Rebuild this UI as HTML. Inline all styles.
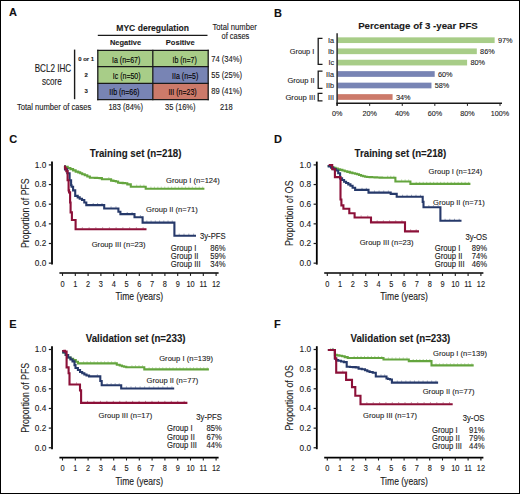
<!DOCTYPE html>
<html><head><meta charset="utf-8"><style>
html,body{margin:0;padding:0;background:#fff;}
body{width:520px;height:494px;overflow:hidden;position:relative;}
svg{position:absolute;left:0;top:0;}
text{font-family:"Liberation Sans", sans-serif;}
.frame{position:absolute;left:0;top:0;width:518px;height:492px;border:1px solid #000;}
</style></head><body>
<svg width="520" height="494" viewBox="0 0 520 494">
<rect x="0" y="0" width="520" height="494" fill="#fff"/>
<text x="9.00" y="16.34" font-size="11" font-weight="bold" text-anchor="start" fill="#111" stroke="#111" stroke-width="0.1">A</text>
<text x="116.30" y="30.66" font-size="8.56" font-weight="bold" text-anchor="start" fill="#1a1a1a" stroke="#1a1a1a" stroke-width="0.1">MYC deregulation</text>
<line x1="97.80" y1="35.40" x2="207.50" y2="35.40" stroke="#1a1a1a" stroke-width="1.2"/>
<text x="125.50" y="45.27" font-size="7.46" font-weight="bold" text-anchor="middle" fill="#1a1a1a" stroke="#1a1a1a" stroke-width="0.1">Negative</text>
<text x="180.30" y="45.30" font-size="7.54" font-weight="bold" text-anchor="middle" fill="#1a1a1a" stroke="#1a1a1a" stroke-width="0.1">Positive</text>
<text transform="translate(234.60,0) scale(0.9,1)" x="0" y="29.65" font-size="8.53" text-anchor="middle" fill="#1a1a1a" stroke="#1a1a1a" stroke-width="0.111">Total number</text>
<text transform="translate(235.40,0) scale(0.9,1)" x="0" y="38.68" font-size="8.32" text-anchor="middle" fill="#1a1a1a" stroke="#1a1a1a" stroke-width="0.111">of cases</text>
<rect x="97.80" y="50.40" width="55.00" height="16.30" fill="#a8cd88"/>
<rect x="152.80" y="50.40" width="55.40" height="16.30" fill="#a8cd88"/>
<rect x="97.80" y="66.70" width="55.00" height="16.60" fill="#a8cd88"/>
<rect x="152.80" y="66.70" width="55.40" height="16.60" fill="#7884b4"/>
<rect x="97.80" y="83.30" width="55.00" height="16.30" fill="#7884b4"/>
<rect x="152.80" y="83.30" width="55.40" height="16.30" fill="#cc7a6a"/>
<line x1="97.20" y1="50.40" x2="208.80" y2="50.40" stroke="#1a1a1a" stroke-width="1.3"/>
<line x1="97.20" y1="66.70" x2="208.80" y2="66.70" stroke="#1a1a1a" stroke-width="1.3"/>
<line x1="97.20" y1="83.30" x2="208.80" y2="83.30" stroke="#1a1a1a" stroke-width="1.3"/>
<line x1="97.20" y1="99.60" x2="208.80" y2="99.60" stroke="#1a1a1a" stroke-width="1.3"/>
<line x1="97.80" y1="49.80" x2="97.80" y2="100.20" stroke="#1a1a1a" stroke-width="1.3"/>
<line x1="152.80" y1="49.80" x2="152.80" y2="100.20" stroke="#1a1a1a" stroke-width="1.3"/>
<line x1="208.20" y1="49.80" x2="208.20" y2="100.20" stroke="#1a1a1a" stroke-width="1.3"/>
<text transform="translate(126.15,0) scale(0.82,1)" x="0" y="62.51" font-size="8.54" text-anchor="middle" fill="#000" stroke="#000" stroke-width="0.122">Ia (n=67)</text>
<text transform="translate(184.60,0) scale(0.82,1)" x="0" y="62.51" font-size="8.54" text-anchor="middle" fill="#000" stroke="#000" stroke-width="0.122">Ib (n=7)</text>
<text transform="translate(126.70,0) scale(0.82,1)" x="0" y="78.96" font-size="8.54" text-anchor="middle" fill="#000" stroke="#000" stroke-width="0.122">Ic (n=50)</text>
<text transform="translate(185.20,0) scale(0.82,1)" x="0" y="78.96" font-size="8.54" text-anchor="middle" fill="#000" stroke="#000" stroke-width="0.122">IIa (n=5)</text>
<text transform="translate(124.35,0) scale(0.82,1)" x="0" y="95.41" font-size="8.54" text-anchor="middle" fill="#000" stroke="#000" stroke-width="0.122">IIb (n=66)</text>
<text transform="translate(182.50,0) scale(0.82,1)" x="0" y="95.41" font-size="8.54" text-anchor="middle" fill="#000" stroke="#000" stroke-width="0.122">III (n=23)</text>
<text transform="translate(211.30,0) scale(0.9,1)" x="0" y="61.61" font-size="8.41" text-anchor="start" fill="#1a1a1a" stroke="#1a1a1a" stroke-width="0.111">74 (34%)</text>
<text transform="translate(211.30,0) scale(0.9,1)" x="0" y="77.51" font-size="8.41" text-anchor="start" fill="#1a1a1a" stroke="#1a1a1a" stroke-width="0.111">55 (25%)</text>
<text transform="translate(211.30,0) scale(0.9,1)" x="0" y="94.01" font-size="8.41" text-anchor="start" fill="#1a1a1a" stroke="#1a1a1a" stroke-width="0.111">89 (41%)</text>
<text transform="translate(16.90,0) scale(0.9,1)" x="0" y="109.63" font-size="8.46" text-anchor="start" fill="#1a1a1a" stroke="#1a1a1a" stroke-width="0.111">Total number of cases</text>
<text transform="translate(125.70,0) scale(0.9,1)" x="0" y="109.59" font-size="8.36" text-anchor="middle" fill="#1a1a1a" stroke="#1a1a1a" stroke-width="0.111">183 (84%)</text>
<text transform="translate(180.30,0) scale(0.9,1)" x="0" y="109.69" font-size="8.36" text-anchor="middle" fill="#1a1a1a" stroke="#1a1a1a" stroke-width="0.111">35 (16%)</text>
<text transform="translate(226.30,0) scale(0.9,1)" x="0" y="109.69" font-size="8.36" text-anchor="middle" fill="#1a1a1a" stroke="#1a1a1a" stroke-width="0.111">218</text>
<line x1="74.60" y1="49.60" x2="74.60" y2="99.20" stroke="#1a1a1a" stroke-width="1.4"/>
<text x="86.20" y="60.65" font-size="6.0" font-weight="bold" text-anchor="middle" fill="#1a1a1a" stroke="#1a1a1a" stroke-width="0.1">0 or 1</text>
<text x="86.20" y="77.45" font-size="6.0" font-weight="bold" text-anchor="middle" fill="#1a1a1a" stroke="#1a1a1a" stroke-width="0.1">2</text>
<text x="86.20" y="93.35" font-size="6.0" font-weight="bold" text-anchor="middle" fill="#1a1a1a" stroke="#1a1a1a" stroke-width="0.1">3</text>
<text transform="translate(52.95,0) scale(0.786,1)" x="0" y="71.69" font-size="10.31" text-anchor="middle" fill="#1a1a1a" stroke="#1a1a1a" stroke-width="0.127">BCL2 IHC</text>
<text transform="translate(51.90,0) scale(0.786,1)" x="0" y="84.69" font-size="10.31" text-anchor="middle" fill="#1a1a1a" stroke="#1a1a1a" stroke-width="0.127">score</text>
<text x="274.00" y="16.54" font-size="11" font-weight="bold" text-anchor="start" fill="#111" stroke="#111" stroke-width="0.1">B</text>
<text x="418.00" y="28.88" font-size="9.71" font-weight="bold" text-anchor="middle" fill="#1a1a1a" stroke="#1a1a1a" stroke-width="0.1">Percentage of 3 -year PFS</text>
<rect x="337.50" y="37.35" width="157.14" height="5.70" fill="#a8cd88"/>
<text x="334.10" y="42.81" font-size="7.3" text-anchor="end" fill="#1a1a1a" stroke="#1a1a1a" stroke-width="0.1">Ia</text>
<text x="497.94" y="42.81" font-size="7.3" text-anchor="start" fill="#1a1a1a" stroke="#1a1a1a" stroke-width="0.1">97%</text>
<rect x="337.50" y="48.45" width="139.32" height="5.70" fill="#a8cd88"/>
<text x="334.10" y="53.91" font-size="7.3" text-anchor="end" fill="#1a1a1a" stroke="#1a1a1a" stroke-width="0.1">Ib</text>
<text x="480.12" y="53.91" font-size="7.3" text-anchor="start" fill="#1a1a1a" stroke="#1a1a1a" stroke-width="0.1">86%</text>
<rect x="337.50" y="59.75" width="129.60" height="5.70" fill="#a8cd88"/>
<text x="334.10" y="65.21" font-size="7.3" text-anchor="end" fill="#1a1a1a" stroke="#1a1a1a" stroke-width="0.1">Ic</text>
<text x="470.40" y="65.21" font-size="7.3" text-anchor="start" fill="#1a1a1a" stroke="#1a1a1a" stroke-width="0.1">80%</text>
<rect x="337.50" y="71.15" width="97.20" height="5.70" fill="#7884b4"/>
<text x="334.10" y="76.61" font-size="7.3" text-anchor="end" fill="#1a1a1a" stroke="#1a1a1a" stroke-width="0.1">IIa</text>
<text x="438.00" y="76.61" font-size="7.3" text-anchor="start" fill="#1a1a1a" stroke="#1a1a1a" stroke-width="0.1">60%</text>
<rect x="337.50" y="82.65" width="93.96" height="5.70" fill="#7884b4"/>
<text x="334.10" y="88.11" font-size="7.3" text-anchor="end" fill="#1a1a1a" stroke="#1a1a1a" stroke-width="0.1">IIb</text>
<text x="434.76" y="88.11" font-size="7.3" text-anchor="start" fill="#1a1a1a" stroke="#1a1a1a" stroke-width="0.1">58%</text>
<rect x="337.50" y="94.15" width="55.08" height="5.70" fill="#cc7a6a"/>
<text x="334.10" y="99.61" font-size="7.3" text-anchor="end" fill="#1a1a1a" stroke="#1a1a1a" stroke-width="0.1">III</text>
<text x="395.88" y="99.61" font-size="7.3" text-anchor="start" fill="#1a1a1a" stroke="#1a1a1a" stroke-width="0.1">34%</text>
<line x1="337.10" y1="33.30" x2="337.10" y2="105.80" stroke="#1a1a1a" stroke-width="1.4"/>
<line x1="336.40" y1="103.30" x2="502.00" y2="103.30" stroke="#1a1a1a" stroke-width="1.4"/>
<line x1="337.10" y1="103.30" x2="337.10" y2="105.90" stroke="#1a1a1a" stroke-width="1.0"/>
<text x="337.10" y="115.88" font-size="7.2" text-anchor="middle" fill="#1a1a1a" stroke="#1a1a1a" stroke-width="0.1">0%</text>
<line x1="369.68" y1="103.30" x2="369.68" y2="105.90" stroke="#1a1a1a" stroke-width="1.0"/>
<text x="369.68" y="115.88" font-size="7.2" text-anchor="middle" fill="#1a1a1a" stroke="#1a1a1a" stroke-width="0.1">20%</text>
<line x1="402.26" y1="103.30" x2="402.26" y2="105.90" stroke="#1a1a1a" stroke-width="1.0"/>
<text x="402.26" y="115.88" font-size="7.2" text-anchor="middle" fill="#1a1a1a" stroke="#1a1a1a" stroke-width="0.1">40%</text>
<line x1="434.84" y1="103.30" x2="434.84" y2="105.90" stroke="#1a1a1a" stroke-width="1.0"/>
<text x="434.84" y="115.88" font-size="7.2" text-anchor="middle" fill="#1a1a1a" stroke="#1a1a1a" stroke-width="0.1">60%</text>
<line x1="467.42" y1="103.30" x2="467.42" y2="105.90" stroke="#1a1a1a" stroke-width="1.0"/>
<text x="467.42" y="115.88" font-size="7.2" text-anchor="middle" fill="#1a1a1a" stroke="#1a1a1a" stroke-width="0.1">80%</text>
<line x1="500.00" y1="103.30" x2="500.00" y2="105.90" stroke="#1a1a1a" stroke-width="1.0"/>
<text x="500.00" y="115.88" font-size="7.2" text-anchor="middle" fill="#1a1a1a" stroke="#1a1a1a" stroke-width="0.1">100%</text>
<path d="M322.5,38.30 L318.2,38.30 L318.2,64.40 L322.5,64.40" fill="none" stroke="#1a1a1a" stroke-width="1.3"/>
<path d="M322.5,71.20 L318.2,71.20 L318.2,88.40 L322.5,88.40" fill="none" stroke="#1a1a1a" stroke-width="1.3"/>
<path d="M322.5,93.30 L318.2,93.30 L318.2,100.90 L322.5,100.90" fill="none" stroke="#1a1a1a" stroke-width="1.3"/>
<text x="314.30" y="54.14" font-size="7.38" text-anchor="end" fill="#1a1a1a" stroke="#1a1a1a" stroke-width="0.1">Group I</text>
<text x="314.60" y="82.59" font-size="7.5" text-anchor="end" fill="#1a1a1a" stroke="#1a1a1a" stroke-width="0.1">Group II</text>
<text x="315.30" y="99.95" font-size="7.69" text-anchor="end" fill="#1a1a1a" stroke="#1a1a1a" stroke-width="0.1">Group III</text>
<text x="9.30" y="143.14" font-size="11" font-weight="bold" text-anchor="start" fill="#111" stroke="#111" stroke-width="0.1">C</text>
<text transform="translate(135.60,0) scale(0.92,1)" x="0" y="157.19" font-size="10.60" font-weight="bold" text-anchor="middle" fill="#1a1a1a" stroke="#1a1a1a" stroke-width="0.109">Training set (n=218)</text>
<line x1="52.00" y1="161.60" x2="52.00" y2="264.60" stroke="#000" stroke-width="1.8"/>
<line x1="48.80" y1="164.90" x2="52.00" y2="164.90" stroke="#1a1a1a" stroke-width="1.2"/>
<text transform="translate(46.30,0) scale(0.92,1)" x="0" y="167.73" font-size="9.02" text-anchor="end" fill="#1a1a1a" stroke="#1a1a1a" stroke-width="0.109">1.0</text>
<line x1="48.80" y1="184.55" x2="52.00" y2="184.55" stroke="#1a1a1a" stroke-width="1.2"/>
<text transform="translate(46.30,0) scale(0.92,1)" x="0" y="187.38" font-size="9.02" text-anchor="end" fill="#1a1a1a" stroke="#1a1a1a" stroke-width="0.109">0.8</text>
<line x1="48.80" y1="204.20" x2="52.00" y2="204.20" stroke="#1a1a1a" stroke-width="1.2"/>
<text transform="translate(46.30,0) scale(0.92,1)" x="0" y="207.03" font-size="9.02" text-anchor="end" fill="#1a1a1a" stroke="#1a1a1a" stroke-width="0.109">0.6</text>
<line x1="48.80" y1="223.85" x2="52.00" y2="223.85" stroke="#1a1a1a" stroke-width="1.2"/>
<text transform="translate(46.30,0) scale(0.92,1)" x="0" y="226.68" font-size="9.02" text-anchor="end" fill="#1a1a1a" stroke="#1a1a1a" stroke-width="0.109">0.4</text>
<line x1="48.80" y1="243.50" x2="52.00" y2="243.50" stroke="#1a1a1a" stroke-width="1.2"/>
<text transform="translate(46.30,0) scale(0.92,1)" x="0" y="246.33" font-size="9.02" text-anchor="end" fill="#1a1a1a" stroke="#1a1a1a" stroke-width="0.109">0.2</text>
<line x1="48.80" y1="263.15" x2="52.00" y2="263.15" stroke="#1a1a1a" stroke-width="1.2"/>
<text transform="translate(46.30,0) scale(0.92,1)" x="0" y="265.98" font-size="9.02" text-anchor="end" fill="#1a1a1a" stroke="#1a1a1a" stroke-width="0.109">0.0</text>
<text transform="translate(28.50,213.20) rotate(-90) scale(0.88,1)" font-size="10" text-anchor="middle" fill="#1a1a1a" stroke="#1a1a1a" stroke-width="0.1">Proportion of PFS</text>
<line x1="59.40" y1="273.00" x2="218.60" y2="273.00" stroke="#000" stroke-width="1.7"/>
<line x1="62.50" y1="273.00" x2="62.50" y2="275.90" stroke="#1a1a1a" stroke-width="1.1"/>
<text transform="translate(62.50,0) scale(0.86,1)" x="0" y="286.78" font-size="8.60" text-anchor="middle" fill="#1a1a1a" stroke="#1a1a1a" stroke-width="0.116">0</text>
<line x1="75.30" y1="273.00" x2="75.30" y2="275.90" stroke="#1a1a1a" stroke-width="1.1"/>
<text transform="translate(75.30,0) scale(0.86,1)" x="0" y="286.78" font-size="8.60" text-anchor="middle" fill="#1a1a1a" stroke="#1a1a1a" stroke-width="0.116">1</text>
<line x1="88.10" y1="273.00" x2="88.10" y2="275.90" stroke="#1a1a1a" stroke-width="1.1"/>
<text transform="translate(88.10,0) scale(0.86,1)" x="0" y="286.78" font-size="8.60" text-anchor="middle" fill="#1a1a1a" stroke="#1a1a1a" stroke-width="0.116">2</text>
<line x1="100.90" y1="273.00" x2="100.90" y2="275.90" stroke="#1a1a1a" stroke-width="1.1"/>
<text transform="translate(100.90,0) scale(0.86,1)" x="0" y="286.78" font-size="8.60" text-anchor="middle" fill="#1a1a1a" stroke="#1a1a1a" stroke-width="0.116">3</text>
<line x1="113.70" y1="273.00" x2="113.70" y2="275.90" stroke="#1a1a1a" stroke-width="1.1"/>
<text transform="translate(113.70,0) scale(0.86,1)" x="0" y="286.78" font-size="8.60" text-anchor="middle" fill="#1a1a1a" stroke="#1a1a1a" stroke-width="0.116">4</text>
<line x1="126.50" y1="273.00" x2="126.50" y2="275.90" stroke="#1a1a1a" stroke-width="1.1"/>
<text transform="translate(126.50,0) scale(0.86,1)" x="0" y="286.78" font-size="8.60" text-anchor="middle" fill="#1a1a1a" stroke="#1a1a1a" stroke-width="0.116">5</text>
<line x1="139.30" y1="273.00" x2="139.30" y2="275.90" stroke="#1a1a1a" stroke-width="1.1"/>
<text transform="translate(139.30,0) scale(0.86,1)" x="0" y="286.78" font-size="8.60" text-anchor="middle" fill="#1a1a1a" stroke="#1a1a1a" stroke-width="0.116">6</text>
<line x1="152.10" y1="273.00" x2="152.10" y2="275.90" stroke="#1a1a1a" stroke-width="1.1"/>
<text transform="translate(152.10,0) scale(0.86,1)" x="0" y="286.78" font-size="8.60" text-anchor="middle" fill="#1a1a1a" stroke="#1a1a1a" stroke-width="0.116">7</text>
<line x1="164.90" y1="273.00" x2="164.90" y2="275.90" stroke="#1a1a1a" stroke-width="1.1"/>
<text transform="translate(164.90,0) scale(0.86,1)" x="0" y="286.78" font-size="8.60" text-anchor="middle" fill="#1a1a1a" stroke="#1a1a1a" stroke-width="0.116">8</text>
<line x1="177.70" y1="273.00" x2="177.70" y2="275.90" stroke="#1a1a1a" stroke-width="1.1"/>
<text transform="translate(177.70,0) scale(0.86,1)" x="0" y="286.78" font-size="8.60" text-anchor="middle" fill="#1a1a1a" stroke="#1a1a1a" stroke-width="0.116">9</text>
<line x1="190.50" y1="273.00" x2="190.50" y2="275.90" stroke="#1a1a1a" stroke-width="1.1"/>
<text transform="translate(190.50,0) scale(0.86,1)" x="0" y="286.78" font-size="8.60" text-anchor="middle" fill="#1a1a1a" stroke="#1a1a1a" stroke-width="0.116">10</text>
<line x1="203.30" y1="273.00" x2="203.30" y2="275.90" stroke="#1a1a1a" stroke-width="1.1"/>
<text transform="translate(203.30,0) scale(0.86,1)" x="0" y="286.78" font-size="8.60" text-anchor="middle" fill="#1a1a1a" stroke="#1a1a1a" stroke-width="0.116">11</text>
<line x1="216.10" y1="273.00" x2="216.10" y2="275.90" stroke="#1a1a1a" stroke-width="1.1"/>
<text transform="translate(216.10,0) scale(0.86,1)" x="0" y="286.78" font-size="8.60" text-anchor="middle" fill="#1a1a1a" stroke="#1a1a1a" stroke-width="0.116">12</text>
<text transform="translate(139.25,0) scale(0.84,1)" x="0" y="300.25" font-size="10.19" text-anchor="middle" fill="#1a1a1a" stroke="#1a1a1a" stroke-width="0.119">Time (years)</text>
<text transform="translate(166.00,0) scale(0.94,1)" x="0" y="182.89" font-size="8.09" text-anchor="start" fill="#1a1a1a" stroke="#1a1a1a" stroke-width="0.106">Group I (n=124)</text>
<text transform="translate(146.00,0) scale(0.94,1)" x="0" y="212.29" font-size="8.09" text-anchor="start" fill="#1a1a1a" stroke="#1a1a1a" stroke-width="0.106">Group II (n=71)</text>
<text transform="translate(91.70,0) scale(0.94,1)" x="0" y="246.89" font-size="8.09" text-anchor="start" fill="#1a1a1a" stroke="#1a1a1a" stroke-width="0.106">Group III (n=23)</text>
<text transform="translate(225.60,0) scale(0.94,1)" x="0" y="239.43" font-size="8.19" text-anchor="end" fill="#1a1a1a" stroke="#1a1a1a" stroke-width="0.106">3y-PFS</text>
<text transform="translate(170.70,0) scale(0.94,1)" x="0" y="250.83" font-size="8.19" text-anchor="start" fill="#1a1a1a" stroke="#1a1a1a" stroke-width="0.106">Group I</text>
<text transform="translate(225.60,0) scale(0.94,1)" x="0" y="250.83" font-size="8.19" text-anchor="end" fill="#1a1a1a" stroke="#1a1a1a" stroke-width="0.106">86%</text>
<text transform="translate(170.70,0) scale(0.94,1)" x="0" y="259.43" font-size="8.19" text-anchor="start" fill="#1a1a1a" stroke="#1a1a1a" stroke-width="0.106">Group II</text>
<text transform="translate(225.60,0) scale(0.94,1)" x="0" y="259.43" font-size="8.19" text-anchor="end" fill="#1a1a1a" stroke="#1a1a1a" stroke-width="0.106">59%</text>
<text transform="translate(170.70,0) scale(0.94,1)" x="0" y="267.23" font-size="8.19" text-anchor="start" fill="#1a1a1a" stroke="#1a1a1a" stroke-width="0.106">Group III</text>
<text transform="translate(225.60,0) scale(0.94,1)" x="0" y="267.23" font-size="8.19" text-anchor="end" fill="#1a1a1a" stroke="#1a1a1a" stroke-width="0.106">34%</text>
<path d="M65.00,165.60 L65.00,166.77 L67.70,166.77 L67.70,167.93 L70.40,167.93 L70.40,169.10 L73.10,169.10 L73.10,170.35 L75.65,170.35 L75.65,171.60 L78.20,171.60 L78.20,172.40 L80.20,172.40 L80.20,173.20 L82.20,173.20 L82.20,174.20 L84.75,174.20 L84.75,175.20 L87.30,175.20 L87.30,176.45 L89.85,176.45 L89.85,177.70 L92.40,177.70 L92.40,177.80 L94.78,177.80 L94.78,177.90 L97.15,177.90 L97.15,178.00 L99.53,178.00 L99.53,178.10 L101.90,178.10 L101.90,179.20 L104.20,179.20 L111.10,179.20 L111.10,180.60 L113.50,180.60 L113.50,181.05 L115.80,181.05 L115.80,181.50 L118.10,181.50 L118.10,182.70 L120.40,182.70 L120.40,182.90 L122.70,182.90 L122.70,183.10 L125.00,183.10 L125.00,183.30 L127.30,183.30 L127.30,184.40 L130.80,184.40 L130.80,186.70 L133.10,186.70 L145.70,186.70 L145.70,188.70 L147.50,188.70 L204.40,188.70" fill="none" stroke="#64a53e" stroke-width="2.1" stroke-linejoin="miter" stroke-linecap="butt"/>
<path d="M108.80,178.35 V177.15 M136.70,185.85 V184.65 M140.30,185.85 V184.65 M143.90,185.85 V184.65 M150.95,187.85 V186.65 M154.40,187.85 V186.65 M157.85,187.85 V186.65 M161.29,187.85 V186.65 M164.74,187.85 V186.65 M168.19,187.85 V186.65 M171.64,187.85 V186.65 M175.09,187.85 V186.65 M178.54,187.85 V186.65 M181.98,187.85 V186.65 M185.43,187.85 V186.65 M188.88,187.85 V186.65 M192.33,187.85 V186.65 M195.78,187.85 V186.65 M199.23,187.85 V186.65 M202.68,187.85 V186.65" fill="none" stroke="#64a53e" stroke-width="0.8" opacity="0.6"/>
<path d="M65.00,165.60 L65.00,169.40 L67.30,169.40 L67.30,173.20 L69.60,173.20 L69.60,180.20 L71.10,180.20 L71.10,185.30 L71.60,185.30 L71.60,186.80 L73.10,186.80 L73.10,190.40 L75.20,190.40 L75.20,195.90 L77.70,195.90 L77.70,197.40 L79.70,197.40 L79.70,198.70 L82.00,198.70 L82.00,200.00 L84.30,200.00 L84.30,202.50 L86.30,202.50 L86.30,205.10 L88.80,205.10 L104.20,205.10 L104.20,208.50 L106.20,208.50 L118.40,208.50 L118.40,211.80 L120.40,211.80 L120.40,214.10 L122.40,214.10 L134.50,214.10 L134.50,217.20 L135.90,217.20 L142.60,217.20 L142.60,222.60 L174.40,222.60 L174.40,235.70 L196.00,235.70" fill="none" stroke="#26396a" stroke-width="2.1" stroke-linejoin="miter" stroke-linecap="butt"/>
<path d="M93.20,204.25 V203.05 M97.60,204.25 V203.05 M102.00,204.25 V203.05 M111.08,207.65 V206.45 M115.96,207.65 V206.45 M127.24,213.25 V212.05 M132.08,213.25 V212.05 M140.37,216.35 V215.15 M146.84,221.75 V220.55 M151.08,221.75 V220.55 M155.32,221.75 V220.55 M159.56,221.75 V220.55 M163.80,221.75 V220.55 M168.04,221.75 V220.55 M172.28,221.75 V220.55 M179.20,234.85 V233.65 M184.00,234.85 V233.65 M188.80,234.85 V233.65 M193.60,234.85 V233.65" fill="none" stroke="#26396a" stroke-width="0.8" opacity="0.6"/>
<path d="M65.00,165.60 L65.00,168.35 L66.30,168.35 L66.30,171.10 L67.60,171.10 L67.60,180.20 L68.60,180.20 L68.60,190.40 L69.10,190.40 L69.10,192.40 L70.10,192.40 L70.10,202.50 L70.60,202.50 L70.60,212.40 L71.90,212.40 L71.90,220.00 L73.40,220.00 L75.60,220.00 L75.60,229.30 L146.50,229.30" fill="none" stroke="#8c1038" stroke-width="2.1" stroke-linejoin="miter" stroke-linecap="butt"/>
<path d="M82.35,228.45 V227.25 M89.10,228.45 V227.25 M95.86,228.45 V227.25 M102.61,228.45 V227.25 M109.36,228.45 V227.25 M116.11,228.45 V227.25 M122.87,228.45 V227.25 M129.62,228.45 V227.25 M136.37,228.45 V227.25 M143.12,228.45 V227.25" fill="none" stroke="#8c1038" stroke-width="0.8" opacity="0.6"/>
<text x="274.10" y="143.14" font-size="11" font-weight="bold" text-anchor="start" fill="#111" stroke="#111" stroke-width="0.1">D</text>
<text transform="translate(400.40,0) scale(0.92,1)" x="0" y="157.19" font-size="10.60" font-weight="bold" text-anchor="middle" fill="#1a1a1a" stroke="#1a1a1a" stroke-width="0.109">Training set (n=218)</text>
<line x1="316.80" y1="161.60" x2="316.80" y2="264.60" stroke="#000" stroke-width="1.8"/>
<line x1="313.60" y1="164.90" x2="316.80" y2="164.90" stroke="#1a1a1a" stroke-width="1.2"/>
<text transform="translate(311.10,0) scale(0.92,1)" x="0" y="167.73" font-size="9.02" text-anchor="end" fill="#1a1a1a" stroke="#1a1a1a" stroke-width="0.109">1.0</text>
<line x1="313.60" y1="184.55" x2="316.80" y2="184.55" stroke="#1a1a1a" stroke-width="1.2"/>
<text transform="translate(311.10,0) scale(0.92,1)" x="0" y="187.38" font-size="9.02" text-anchor="end" fill="#1a1a1a" stroke="#1a1a1a" stroke-width="0.109">0.8</text>
<line x1="313.60" y1="204.20" x2="316.80" y2="204.20" stroke="#1a1a1a" stroke-width="1.2"/>
<text transform="translate(311.10,0) scale(0.92,1)" x="0" y="207.03" font-size="9.02" text-anchor="end" fill="#1a1a1a" stroke="#1a1a1a" stroke-width="0.109">0.6</text>
<line x1="313.60" y1="223.85" x2="316.80" y2="223.85" stroke="#1a1a1a" stroke-width="1.2"/>
<text transform="translate(311.10,0) scale(0.92,1)" x="0" y="226.68" font-size="9.02" text-anchor="end" fill="#1a1a1a" stroke="#1a1a1a" stroke-width="0.109">0.4</text>
<line x1="313.60" y1="243.50" x2="316.80" y2="243.50" stroke="#1a1a1a" stroke-width="1.2"/>
<text transform="translate(311.10,0) scale(0.92,1)" x="0" y="246.33" font-size="9.02" text-anchor="end" fill="#1a1a1a" stroke="#1a1a1a" stroke-width="0.109">0.2</text>
<line x1="313.60" y1="263.15" x2="316.80" y2="263.15" stroke="#1a1a1a" stroke-width="1.2"/>
<text transform="translate(311.10,0) scale(0.92,1)" x="0" y="265.98" font-size="9.02" text-anchor="end" fill="#1a1a1a" stroke="#1a1a1a" stroke-width="0.109">0.0</text>
<text transform="translate(293.30,213.20) rotate(-90) scale(0.88,1)" font-size="10" text-anchor="middle" fill="#1a1a1a" stroke="#1a1a1a" stroke-width="0.1">Proportion of OS</text>
<line x1="324.20" y1="273.00" x2="483.40" y2="273.00" stroke="#000" stroke-width="1.7"/>
<line x1="327.30" y1="273.00" x2="327.30" y2="275.90" stroke="#1a1a1a" stroke-width="1.1"/>
<text transform="translate(327.30,0) scale(0.86,1)" x="0" y="286.78" font-size="8.60" text-anchor="middle" fill="#1a1a1a" stroke="#1a1a1a" stroke-width="0.116">0</text>
<line x1="340.10" y1="273.00" x2="340.10" y2="275.90" stroke="#1a1a1a" stroke-width="1.1"/>
<text transform="translate(340.10,0) scale(0.86,1)" x="0" y="286.78" font-size="8.60" text-anchor="middle" fill="#1a1a1a" stroke="#1a1a1a" stroke-width="0.116">1</text>
<line x1="352.90" y1="273.00" x2="352.90" y2="275.90" stroke="#1a1a1a" stroke-width="1.1"/>
<text transform="translate(352.90,0) scale(0.86,1)" x="0" y="286.78" font-size="8.60" text-anchor="middle" fill="#1a1a1a" stroke="#1a1a1a" stroke-width="0.116">2</text>
<line x1="365.70" y1="273.00" x2="365.70" y2="275.90" stroke="#1a1a1a" stroke-width="1.1"/>
<text transform="translate(365.70,0) scale(0.86,1)" x="0" y="286.78" font-size="8.60" text-anchor="middle" fill="#1a1a1a" stroke="#1a1a1a" stroke-width="0.116">3</text>
<line x1="378.50" y1="273.00" x2="378.50" y2="275.90" stroke="#1a1a1a" stroke-width="1.1"/>
<text transform="translate(378.50,0) scale(0.86,1)" x="0" y="286.78" font-size="8.60" text-anchor="middle" fill="#1a1a1a" stroke="#1a1a1a" stroke-width="0.116">4</text>
<line x1="391.30" y1="273.00" x2="391.30" y2="275.90" stroke="#1a1a1a" stroke-width="1.1"/>
<text transform="translate(391.30,0) scale(0.86,1)" x="0" y="286.78" font-size="8.60" text-anchor="middle" fill="#1a1a1a" stroke="#1a1a1a" stroke-width="0.116">5</text>
<line x1="404.10" y1="273.00" x2="404.10" y2="275.90" stroke="#1a1a1a" stroke-width="1.1"/>
<text transform="translate(404.10,0) scale(0.86,1)" x="0" y="286.78" font-size="8.60" text-anchor="middle" fill="#1a1a1a" stroke="#1a1a1a" stroke-width="0.116">6</text>
<line x1="416.90" y1="273.00" x2="416.90" y2="275.90" stroke="#1a1a1a" stroke-width="1.1"/>
<text transform="translate(416.90,0) scale(0.86,1)" x="0" y="286.78" font-size="8.60" text-anchor="middle" fill="#1a1a1a" stroke="#1a1a1a" stroke-width="0.116">7</text>
<line x1="429.70" y1="273.00" x2="429.70" y2="275.90" stroke="#1a1a1a" stroke-width="1.1"/>
<text transform="translate(429.70,0) scale(0.86,1)" x="0" y="286.78" font-size="8.60" text-anchor="middle" fill="#1a1a1a" stroke="#1a1a1a" stroke-width="0.116">8</text>
<line x1="442.50" y1="273.00" x2="442.50" y2="275.90" stroke="#1a1a1a" stroke-width="1.1"/>
<text transform="translate(442.50,0) scale(0.86,1)" x="0" y="286.78" font-size="8.60" text-anchor="middle" fill="#1a1a1a" stroke="#1a1a1a" stroke-width="0.116">9</text>
<line x1="455.30" y1="273.00" x2="455.30" y2="275.90" stroke="#1a1a1a" stroke-width="1.1"/>
<text transform="translate(455.30,0) scale(0.86,1)" x="0" y="286.78" font-size="8.60" text-anchor="middle" fill="#1a1a1a" stroke="#1a1a1a" stroke-width="0.116">10</text>
<line x1="468.10" y1="273.00" x2="468.10" y2="275.90" stroke="#1a1a1a" stroke-width="1.1"/>
<text transform="translate(468.10,0) scale(0.86,1)" x="0" y="286.78" font-size="8.60" text-anchor="middle" fill="#1a1a1a" stroke="#1a1a1a" stroke-width="0.116">11</text>
<line x1="480.90" y1="273.00" x2="480.90" y2="275.90" stroke="#1a1a1a" stroke-width="1.1"/>
<text transform="translate(480.90,0) scale(0.86,1)" x="0" y="286.78" font-size="8.60" text-anchor="middle" fill="#1a1a1a" stroke="#1a1a1a" stroke-width="0.116">12</text>
<text transform="translate(404.05,0) scale(0.84,1)" x="0" y="300.25" font-size="10.19" text-anchor="middle" fill="#1a1a1a" stroke="#1a1a1a" stroke-width="0.119">Time (years)</text>
<text transform="translate(428.50,0) scale(0.94,1)" x="0" y="174.09" font-size="8.09" text-anchor="start" fill="#1a1a1a" stroke="#1a1a1a" stroke-width="0.106">Group I (n=124)</text>
<text transform="translate(433.00,0) scale(0.94,1)" x="0" y="205.19" font-size="8.09" text-anchor="start" fill="#1a1a1a" stroke="#1a1a1a" stroke-width="0.106">Group II (n=71)</text>
<text transform="translate(359.70,0) scale(0.94,1)" x="0" y="244.79" font-size="8.09" text-anchor="start" fill="#1a1a1a" stroke="#1a1a1a" stroke-width="0.106">Group III (n=23)</text>
<text transform="translate(487.20,0) scale(0.94,1)" x="0" y="239.63" font-size="8.19" text-anchor="end" fill="#1a1a1a" stroke="#1a1a1a" stroke-width="0.106">3y-OS</text>
<text transform="translate(434.70,0) scale(0.94,1)" x="0" y="250.73" font-size="8.19" text-anchor="start" fill="#1a1a1a" stroke="#1a1a1a" stroke-width="0.106">Group I</text>
<text transform="translate(487.20,0) scale(0.94,1)" x="0" y="250.73" font-size="8.19" text-anchor="end" fill="#1a1a1a" stroke="#1a1a1a" stroke-width="0.106">89%</text>
<text transform="translate(434.70,0) scale(0.94,1)" x="0" y="259.43" font-size="8.19" text-anchor="start" fill="#1a1a1a" stroke="#1a1a1a" stroke-width="0.106">Group II</text>
<text transform="translate(487.20,0) scale(0.94,1)" x="0" y="259.43" font-size="8.19" text-anchor="end" fill="#1a1a1a" stroke="#1a1a1a" stroke-width="0.106">74%</text>
<text transform="translate(434.70,0) scale(0.94,1)" x="0" y="267.03" font-size="8.19" text-anchor="start" fill="#1a1a1a" stroke="#1a1a1a" stroke-width="0.106">Group III</text>
<text transform="translate(487.20,0) scale(0.94,1)" x="0" y="267.03" font-size="8.19" text-anchor="end" fill="#1a1a1a" stroke="#1a1a1a" stroke-width="0.106">46%</text>
<path d="M328.70,165.00 L328.70,165.97 L330.97,165.97 L330.97,166.93 L333.23,166.93 L333.23,167.90 L335.50,167.90 L335.50,168.55 L337.80,168.55 L337.80,169.20 L340.10,169.20 L340.10,169.85 L342.40,169.85 L342.40,170.50 L344.70,170.50 L344.70,171.20 L347.27,171.20 L347.27,171.90 L349.85,171.90 L349.85,172.60 L352.43,172.60 L352.43,173.30 L355.00,173.30 L355.00,173.75 L357.00,173.75 L357.00,174.20 L359.00,174.20 L359.00,175.00 L361.05,175.00 L361.05,175.80 L363.10,175.80 L363.10,176.30 L365.10,176.30 L365.10,176.80 L367.10,176.80 L367.10,176.94 L369.60,176.94 L369.60,177.09 L372.10,177.09 L372.10,177.23 L374.60,177.23 L374.60,177.37 L377.10,177.37 L377.10,177.51 L379.60,177.51 L379.60,177.66 L382.10,177.66 L382.10,177.80 L384.60,177.80 L395.40,177.80 L395.40,181.50 L398.10,181.50 L410.40,181.50 L410.40,183.90 L412.70,183.90 L470.40,183.90" fill="none" stroke="#64a53e" stroke-width="2.1" stroke-linejoin="miter" stroke-linecap="butt"/>
<path d="M387.69,176.95 V175.75 M390.77,176.95 V175.75 M393.86,176.95 V175.75 M401.61,180.65 V179.45 M405.13,180.65 V179.45 M408.64,180.65 V179.45 M416.20,183.05 V181.85 M419.69,183.05 V181.85 M423.19,183.05 V181.85 M426.69,183.05 V181.85 M430.18,183.05 V181.85 M433.68,183.05 V181.85 M437.18,183.05 V181.85 M440.68,183.05 V181.85 M444.17,183.05 V181.85 M447.67,183.05 V181.85 M451.17,183.05 V181.85 M454.66,183.05 V181.85 M458.16,183.05 V181.85 M461.66,183.05 V181.85 M465.15,183.05 V181.85 M468.65,183.05 V181.85" fill="none" stroke="#64a53e" stroke-width="0.8" opacity="0.6"/>
<path d="M328.70,165.00 L328.70,166.38 L331.07,166.38 L331.07,167.75 L333.45,167.75 L333.45,169.12 L335.82,169.12 L335.82,170.50 L338.20,170.50 L338.20,173.20 L340.10,173.20 L340.10,178.40 L342.10,178.40 L342.10,180.05 L344.10,180.05 L344.10,181.70 L346.10,181.70 L346.10,183.03 L348.27,183.03 L348.27,184.37 L350.43,184.37 L350.43,185.70 L352.60,185.70 L352.60,187.80 L355.15,187.80 L355.15,189.90 L357.70,189.90 L368.50,189.90 L368.50,192.60 L369.80,192.60 L390.70,192.60 L390.70,193.90 L392.00,193.90 L396.70,193.90 L396.70,196.80 L398.10,196.80 L422.70,196.80 L422.70,201.90 L423.50,201.90 L423.50,207.30 L424.20,207.30 L440.40,207.30 L440.40,220.80 L461.50,220.80" fill="none" stroke="#26396a" stroke-width="2.1" stroke-linejoin="miter" stroke-linecap="butt"/>
<path d="M362.02,189.05 V187.85 M366.34,189.05 V187.85 M374.44,191.75 V190.55 M379.09,191.75 V190.55 M383.73,191.75 V190.55 M388.38,191.75 V190.55 M402.57,195.95 V194.75 M407.05,195.95 V194.75 M411.52,195.95 V194.75 M415.99,195.95 V194.75 M420.46,195.95 V194.75 M428.83,206.45 V205.25 M433.46,206.45 V205.25 M438.09,206.45 V205.25 M445.09,219.95 V218.75 M449.78,219.95 V218.75 M454.47,219.95 V218.75 M459.16,219.95 V218.75" fill="none" stroke="#26396a" stroke-width="0.8" opacity="0.6"/>
<path d="M328.70,165.00 L332.20,165.00 L332.20,169.20 L334.90,169.20 L334.90,177.10 L340.50,177.10 L340.50,199.50 L341.40,199.50 L341.40,205.40 L343.40,205.40 L343.40,208.70 L344.70,208.70 L349.30,208.70 L349.30,213.30 L354.60,213.30 L354.60,217.50 L371.00,217.50 L371.00,222.40 L405.00,222.40 L405.00,231.40 L419.00,231.40" fill="none" stroke="#8c1038" stroke-width="2.1" stroke-linejoin="miter" stroke-linecap="butt"/>
<path d="M361.16,216.65 V215.45 M367.72,216.65 V215.45 M377.18,221.55 V220.35 M383.36,221.55 V220.35 M389.55,221.55 V220.35 M395.73,221.55 V220.35 M401.91,221.55 V220.35 M410.60,230.55 V229.35 M416.20,230.55 V229.35" fill="none" stroke="#8c1038" stroke-width="0.8" opacity="0.6"/>
<text x="9.30" y="327.74" font-size="11" font-weight="bold" text-anchor="start" fill="#111" stroke="#111" stroke-width="0.1">E</text>
<text transform="translate(135.60,0) scale(0.92,1)" x="0" y="341.79" font-size="10.60" font-weight="bold" text-anchor="middle" fill="#1a1a1a" stroke="#1a1a1a" stroke-width="0.109">Validation set (n=233)</text>
<line x1="52.00" y1="346.20" x2="52.00" y2="449.20" stroke="#000" stroke-width="1.8"/>
<line x1="48.80" y1="349.50" x2="52.00" y2="349.50" stroke="#1a1a1a" stroke-width="1.2"/>
<text transform="translate(46.30,0) scale(0.92,1)" x="0" y="352.33" font-size="9.02" text-anchor="end" fill="#1a1a1a" stroke="#1a1a1a" stroke-width="0.109">1.0</text>
<line x1="48.80" y1="369.15" x2="52.00" y2="369.15" stroke="#1a1a1a" stroke-width="1.2"/>
<text transform="translate(46.30,0) scale(0.92,1)" x="0" y="371.98" font-size="9.02" text-anchor="end" fill="#1a1a1a" stroke="#1a1a1a" stroke-width="0.109">0.8</text>
<line x1="48.80" y1="388.80" x2="52.00" y2="388.80" stroke="#1a1a1a" stroke-width="1.2"/>
<text transform="translate(46.30,0) scale(0.92,1)" x="0" y="391.63" font-size="9.02" text-anchor="end" fill="#1a1a1a" stroke="#1a1a1a" stroke-width="0.109">0.6</text>
<line x1="48.80" y1="408.45" x2="52.00" y2="408.45" stroke="#1a1a1a" stroke-width="1.2"/>
<text transform="translate(46.30,0) scale(0.92,1)" x="0" y="411.28" font-size="9.02" text-anchor="end" fill="#1a1a1a" stroke="#1a1a1a" stroke-width="0.109">0.4</text>
<line x1="48.80" y1="428.10" x2="52.00" y2="428.10" stroke="#1a1a1a" stroke-width="1.2"/>
<text transform="translate(46.30,0) scale(0.92,1)" x="0" y="430.93" font-size="9.02" text-anchor="end" fill="#1a1a1a" stroke="#1a1a1a" stroke-width="0.109">0.2</text>
<line x1="48.80" y1="447.75" x2="52.00" y2="447.75" stroke="#1a1a1a" stroke-width="1.2"/>
<text transform="translate(46.30,0) scale(0.92,1)" x="0" y="450.58" font-size="9.02" text-anchor="end" fill="#1a1a1a" stroke="#1a1a1a" stroke-width="0.109">0.0</text>
<text transform="translate(28.50,397.80) rotate(-90) scale(0.88,1)" font-size="10" text-anchor="middle" fill="#1a1a1a" stroke="#1a1a1a" stroke-width="0.1">Proportion of PFS</text>
<line x1="59.40" y1="457.60" x2="218.60" y2="457.60" stroke="#000" stroke-width="1.7"/>
<line x1="62.50" y1="457.60" x2="62.50" y2="460.50" stroke="#1a1a1a" stroke-width="1.1"/>
<text transform="translate(62.50,0) scale(0.86,1)" x="0" y="471.38" font-size="8.60" text-anchor="middle" fill="#1a1a1a" stroke="#1a1a1a" stroke-width="0.116">0</text>
<line x1="75.30" y1="457.60" x2="75.30" y2="460.50" stroke="#1a1a1a" stroke-width="1.1"/>
<text transform="translate(75.30,0) scale(0.86,1)" x="0" y="471.38" font-size="8.60" text-anchor="middle" fill="#1a1a1a" stroke="#1a1a1a" stroke-width="0.116">1</text>
<line x1="88.10" y1="457.60" x2="88.10" y2="460.50" stroke="#1a1a1a" stroke-width="1.1"/>
<text transform="translate(88.10,0) scale(0.86,1)" x="0" y="471.38" font-size="8.60" text-anchor="middle" fill="#1a1a1a" stroke="#1a1a1a" stroke-width="0.116">2</text>
<line x1="100.90" y1="457.60" x2="100.90" y2="460.50" stroke="#1a1a1a" stroke-width="1.1"/>
<text transform="translate(100.90,0) scale(0.86,1)" x="0" y="471.38" font-size="8.60" text-anchor="middle" fill="#1a1a1a" stroke="#1a1a1a" stroke-width="0.116">3</text>
<line x1="113.70" y1="457.60" x2="113.70" y2="460.50" stroke="#1a1a1a" stroke-width="1.1"/>
<text transform="translate(113.70,0) scale(0.86,1)" x="0" y="471.38" font-size="8.60" text-anchor="middle" fill="#1a1a1a" stroke="#1a1a1a" stroke-width="0.116">4</text>
<line x1="126.50" y1="457.60" x2="126.50" y2="460.50" stroke="#1a1a1a" stroke-width="1.1"/>
<text transform="translate(126.50,0) scale(0.86,1)" x="0" y="471.38" font-size="8.60" text-anchor="middle" fill="#1a1a1a" stroke="#1a1a1a" stroke-width="0.116">5</text>
<line x1="139.30" y1="457.60" x2="139.30" y2="460.50" stroke="#1a1a1a" stroke-width="1.1"/>
<text transform="translate(139.30,0) scale(0.86,1)" x="0" y="471.38" font-size="8.60" text-anchor="middle" fill="#1a1a1a" stroke="#1a1a1a" stroke-width="0.116">6</text>
<line x1="152.10" y1="457.60" x2="152.10" y2="460.50" stroke="#1a1a1a" stroke-width="1.1"/>
<text transform="translate(152.10,0) scale(0.86,1)" x="0" y="471.38" font-size="8.60" text-anchor="middle" fill="#1a1a1a" stroke="#1a1a1a" stroke-width="0.116">7</text>
<line x1="164.90" y1="457.60" x2="164.90" y2="460.50" stroke="#1a1a1a" stroke-width="1.1"/>
<text transform="translate(164.90,0) scale(0.86,1)" x="0" y="471.38" font-size="8.60" text-anchor="middle" fill="#1a1a1a" stroke="#1a1a1a" stroke-width="0.116">8</text>
<line x1="177.70" y1="457.60" x2="177.70" y2="460.50" stroke="#1a1a1a" stroke-width="1.1"/>
<text transform="translate(177.70,0) scale(0.86,1)" x="0" y="471.38" font-size="8.60" text-anchor="middle" fill="#1a1a1a" stroke="#1a1a1a" stroke-width="0.116">9</text>
<line x1="190.50" y1="457.60" x2="190.50" y2="460.50" stroke="#1a1a1a" stroke-width="1.1"/>
<text transform="translate(190.50,0) scale(0.86,1)" x="0" y="471.38" font-size="8.60" text-anchor="middle" fill="#1a1a1a" stroke="#1a1a1a" stroke-width="0.116">10</text>
<line x1="203.30" y1="457.60" x2="203.30" y2="460.50" stroke="#1a1a1a" stroke-width="1.1"/>
<text transform="translate(203.30,0) scale(0.86,1)" x="0" y="471.38" font-size="8.60" text-anchor="middle" fill="#1a1a1a" stroke="#1a1a1a" stroke-width="0.116">11</text>
<line x1="216.10" y1="457.60" x2="216.10" y2="460.50" stroke="#1a1a1a" stroke-width="1.1"/>
<text transform="translate(216.10,0) scale(0.86,1)" x="0" y="471.38" font-size="8.60" text-anchor="middle" fill="#1a1a1a" stroke="#1a1a1a" stroke-width="0.116">12</text>
<text transform="translate(139.25,0) scale(0.84,1)" x="0" y="484.85" font-size="10.19" text-anchor="middle" fill="#1a1a1a" stroke="#1a1a1a" stroke-width="0.119">Time (years)</text>
<text transform="translate(159.20,0) scale(0.94,1)" x="0" y="361.19" font-size="8.09" text-anchor="start" fill="#1a1a1a" stroke="#1a1a1a" stroke-width="0.106">Group I (n=139)</text>
<text transform="translate(146.50,0) scale(0.94,1)" x="0" y="383.19" font-size="8.09" text-anchor="start" fill="#1a1a1a" stroke="#1a1a1a" stroke-width="0.106">Group II (n=77)</text>
<text transform="translate(98.50,0) scale(0.94,1)" x="0" y="418.09" font-size="8.09" text-anchor="start" fill="#1a1a1a" stroke="#1a1a1a" stroke-width="0.106">Group III (n=17)</text>
<text transform="translate(221.90,0) scale(0.94,1)" x="0" y="420.13" font-size="8.19" text-anchor="end" fill="#1a1a1a" stroke="#1a1a1a" stroke-width="0.106">3y-PFS</text>
<text transform="translate(167.00,0) scale(0.94,1)" x="0" y="431.33" font-size="8.19" text-anchor="start" fill="#1a1a1a" stroke="#1a1a1a" stroke-width="0.106">Group I</text>
<text transform="translate(221.90,0) scale(0.94,1)" x="0" y="431.33" font-size="8.19" text-anchor="end" fill="#1a1a1a" stroke="#1a1a1a" stroke-width="0.106">85%</text>
<text transform="translate(167.00,0) scale(0.94,1)" x="0" y="440.23" font-size="8.19" text-anchor="start" fill="#1a1a1a" stroke="#1a1a1a" stroke-width="0.106">Group II</text>
<text transform="translate(221.90,0) scale(0.94,1)" x="0" y="440.23" font-size="8.19" text-anchor="end" fill="#1a1a1a" stroke="#1a1a1a" stroke-width="0.106">67%</text>
<text transform="translate(167.00,0) scale(0.94,1)" x="0" y="447.63" font-size="8.19" text-anchor="start" fill="#1a1a1a" stroke="#1a1a1a" stroke-width="0.106">Group III</text>
<text transform="translate(221.90,0) scale(0.94,1)" x="0" y="447.63" font-size="8.19" text-anchor="end" fill="#1a1a1a" stroke="#1a1a1a" stroke-width="0.106">44%</text>
<path d="M63.30,350.00 L63.30,352.50 L65.70,352.50 L65.70,355.00 L68.10,355.00 L68.10,357.50 L70.50,357.50 L70.50,358.80 L73.15,358.80 L73.15,360.10 L75.80,360.10 L75.80,361.75 L77.95,361.75 L77.95,363.40 L80.10,363.40 L116.80,363.40 L116.80,364.80 L119.70,364.80 L119.70,365.55 L121.90,365.55 L121.90,366.30 L124.10,366.30 L124.10,366.80 L126.25,366.80 L126.25,367.30 L128.40,367.30 L144.30,367.30 L144.30,369.40 L145.70,369.40 L208.90,369.40" fill="none" stroke="#64a53e" stroke-width="2.1" stroke-linejoin="miter" stroke-linecap="butt"/>
<path d="M83.60,362.55 V361.35 M87.09,362.55 V361.35 M90.59,362.55 V361.35 M94.08,362.55 V361.35 M97.58,362.55 V361.35 M101.07,362.55 V361.35 M104.57,362.55 V361.35 M108.06,362.55 V361.35 M111.56,362.55 V361.35 M115.05,362.55 V361.35 M131.93,366.45 V365.25 M135.47,366.45 V365.25 M139.00,366.45 V365.25 M142.53,366.45 V365.25 M149.12,368.55 V367.35 M152.53,368.55 V367.35 M155.95,368.55 V367.35 M159.36,368.55 V367.35 M162.78,368.55 V367.35 M166.20,368.55 V367.35 M169.61,368.55 V367.35 M173.03,368.55 V367.35 M176.45,368.55 V367.35 M179.86,368.55 V367.35 M183.28,368.55 V367.35 M186.69,368.55 V367.35 M190.11,368.55 V367.35 M193.53,368.55 V367.35 M196.94,368.55 V367.35 M200.36,368.55 V367.35 M203.78,368.55 V367.35 M207.19,368.55 V367.35" fill="none" stroke="#64a53e" stroke-width="0.8" opacity="0.6"/>
<path d="M63.30,350.00 L63.30,352.50 L65.70,352.50 L65.70,355.00 L68.10,355.00 L68.10,357.50 L70.50,357.50 L70.50,359.45 L72.50,359.45 L72.50,361.40 L74.50,361.40 L74.50,365.10 L75.50,365.10 L75.50,368.00 L77.90,368.00 L77.90,370.00 L80.05,370.00 L80.05,372.00 L82.20,372.00 L82.20,373.25 L84.35,373.25 L84.35,374.50 L86.50,374.50 L86.50,375.45 L89.05,375.45 L89.05,376.40 L91.60,376.40 L100.30,376.40 L100.30,381.00 L101.70,381.00 L101.70,385.30 L103.10,385.30 L121.20,385.30 L121.20,388.50 L121.90,388.50 L174.20,388.50" fill="none" stroke="#26396a" stroke-width="2.1" stroke-linejoin="miter" stroke-linecap="butt"/>
<path d="M97.40,375.55 V374.35 M107.12,384.45 V383.25 M111.14,384.45 V383.25 M115.17,384.45 V383.25 M119.19,384.45 V383.25 M126.45,387.65 V386.45 M131.00,387.65 V386.45 M135.54,387.65 V386.45 M140.09,387.65 V386.45 M144.64,387.65 V386.45 M149.19,387.65 V386.45 M153.73,387.65 V386.45 M158.28,387.65 V386.45 M162.83,387.65 V386.45 M167.38,387.65 V386.45 M171.93,387.65 V386.45" fill="none" stroke="#26396a" stroke-width="0.8" opacity="0.6"/>
<path d="M63.30,350.00 L63.30,350.80 L64.95,350.80 L64.95,351.60 L66.60,351.60 L66.60,360.80 L66.60,367.40 L68.60,367.40 L68.60,373.30 L69.50,373.30 L69.50,384.50 L80.00,384.50 L80.00,390.40 L81.10,390.40 L81.10,402.90 L187.40,402.90" fill="none" stroke="#8c1038" stroke-width="2.1" stroke-linejoin="miter" stroke-linecap="butt"/>
<path d="M76.50,383.65 V382.45 M87.54,402.05 V400.85 M93.98,402.05 V400.85 M100.43,402.05 V400.85 M106.87,402.05 V400.85 M113.31,402.05 V400.85 M119.75,402.05 V400.85 M126.20,402.05 V400.85 M132.64,402.05 V400.85 M139.08,402.05 V400.85 M145.52,402.05 V400.85 M151.97,402.05 V400.85 M158.41,402.05 V400.85 M164.85,402.05 V400.85 M171.29,402.05 V400.85 M177.74,402.05 V400.85 M184.18,402.05 V400.85" fill="none" stroke="#8c1038" stroke-width="0.8" opacity="0.6"/>
<text x="274.10" y="327.74" font-size="11" font-weight="bold" text-anchor="start" fill="#111" stroke="#111" stroke-width="0.1">F</text>
<text transform="translate(400.40,0) scale(0.92,1)" x="0" y="341.79" font-size="10.60" font-weight="bold" text-anchor="middle" fill="#1a1a1a" stroke="#1a1a1a" stroke-width="0.109">Validation set (n=233)</text>
<line x1="316.80" y1="346.20" x2="316.80" y2="449.20" stroke="#000" stroke-width="1.8"/>
<line x1="313.60" y1="349.50" x2="316.80" y2="349.50" stroke="#1a1a1a" stroke-width="1.2"/>
<text transform="translate(311.10,0) scale(0.92,1)" x="0" y="352.33" font-size="9.02" text-anchor="end" fill="#1a1a1a" stroke="#1a1a1a" stroke-width="0.109">1.0</text>
<line x1="313.60" y1="369.15" x2="316.80" y2="369.15" stroke="#1a1a1a" stroke-width="1.2"/>
<text transform="translate(311.10,0) scale(0.92,1)" x="0" y="371.98" font-size="9.02" text-anchor="end" fill="#1a1a1a" stroke="#1a1a1a" stroke-width="0.109">0.8</text>
<line x1="313.60" y1="388.80" x2="316.80" y2="388.80" stroke="#1a1a1a" stroke-width="1.2"/>
<text transform="translate(311.10,0) scale(0.92,1)" x="0" y="391.63" font-size="9.02" text-anchor="end" fill="#1a1a1a" stroke="#1a1a1a" stroke-width="0.109">0.6</text>
<line x1="313.60" y1="408.45" x2="316.80" y2="408.45" stroke="#1a1a1a" stroke-width="1.2"/>
<text transform="translate(311.10,0) scale(0.92,1)" x="0" y="411.28" font-size="9.02" text-anchor="end" fill="#1a1a1a" stroke="#1a1a1a" stroke-width="0.109">0.4</text>
<line x1="313.60" y1="428.10" x2="316.80" y2="428.10" stroke="#1a1a1a" stroke-width="1.2"/>
<text transform="translate(311.10,0) scale(0.92,1)" x="0" y="430.93" font-size="9.02" text-anchor="end" fill="#1a1a1a" stroke="#1a1a1a" stroke-width="0.109">0.2</text>
<line x1="313.60" y1="447.75" x2="316.80" y2="447.75" stroke="#1a1a1a" stroke-width="1.2"/>
<text transform="translate(311.10,0) scale(0.92,1)" x="0" y="450.58" font-size="9.02" text-anchor="end" fill="#1a1a1a" stroke="#1a1a1a" stroke-width="0.109">0.0</text>
<text transform="translate(293.30,397.80) rotate(-90) scale(0.88,1)" font-size="10" text-anchor="middle" fill="#1a1a1a" stroke="#1a1a1a" stroke-width="0.1">Proportion of OS</text>
<line x1="324.20" y1="457.60" x2="483.40" y2="457.60" stroke="#000" stroke-width="1.7"/>
<line x1="327.30" y1="457.60" x2="327.30" y2="460.50" stroke="#1a1a1a" stroke-width="1.1"/>
<text transform="translate(327.30,0) scale(0.86,1)" x="0" y="471.38" font-size="8.60" text-anchor="middle" fill="#1a1a1a" stroke="#1a1a1a" stroke-width="0.116">0</text>
<line x1="340.10" y1="457.60" x2="340.10" y2="460.50" stroke="#1a1a1a" stroke-width="1.1"/>
<text transform="translate(340.10,0) scale(0.86,1)" x="0" y="471.38" font-size="8.60" text-anchor="middle" fill="#1a1a1a" stroke="#1a1a1a" stroke-width="0.116">1</text>
<line x1="352.90" y1="457.60" x2="352.90" y2="460.50" stroke="#1a1a1a" stroke-width="1.1"/>
<text transform="translate(352.90,0) scale(0.86,1)" x="0" y="471.38" font-size="8.60" text-anchor="middle" fill="#1a1a1a" stroke="#1a1a1a" stroke-width="0.116">2</text>
<line x1="365.70" y1="457.60" x2="365.70" y2="460.50" stroke="#1a1a1a" stroke-width="1.1"/>
<text transform="translate(365.70,0) scale(0.86,1)" x="0" y="471.38" font-size="8.60" text-anchor="middle" fill="#1a1a1a" stroke="#1a1a1a" stroke-width="0.116">3</text>
<line x1="378.50" y1="457.60" x2="378.50" y2="460.50" stroke="#1a1a1a" stroke-width="1.1"/>
<text transform="translate(378.50,0) scale(0.86,1)" x="0" y="471.38" font-size="8.60" text-anchor="middle" fill="#1a1a1a" stroke="#1a1a1a" stroke-width="0.116">4</text>
<line x1="391.30" y1="457.60" x2="391.30" y2="460.50" stroke="#1a1a1a" stroke-width="1.1"/>
<text transform="translate(391.30,0) scale(0.86,1)" x="0" y="471.38" font-size="8.60" text-anchor="middle" fill="#1a1a1a" stroke="#1a1a1a" stroke-width="0.116">5</text>
<line x1="404.10" y1="457.60" x2="404.10" y2="460.50" stroke="#1a1a1a" stroke-width="1.1"/>
<text transform="translate(404.10,0) scale(0.86,1)" x="0" y="471.38" font-size="8.60" text-anchor="middle" fill="#1a1a1a" stroke="#1a1a1a" stroke-width="0.116">6</text>
<line x1="416.90" y1="457.60" x2="416.90" y2="460.50" stroke="#1a1a1a" stroke-width="1.1"/>
<text transform="translate(416.90,0) scale(0.86,1)" x="0" y="471.38" font-size="8.60" text-anchor="middle" fill="#1a1a1a" stroke="#1a1a1a" stroke-width="0.116">7</text>
<line x1="429.70" y1="457.60" x2="429.70" y2="460.50" stroke="#1a1a1a" stroke-width="1.1"/>
<text transform="translate(429.70,0) scale(0.86,1)" x="0" y="471.38" font-size="8.60" text-anchor="middle" fill="#1a1a1a" stroke="#1a1a1a" stroke-width="0.116">8</text>
<line x1="442.50" y1="457.60" x2="442.50" y2="460.50" stroke="#1a1a1a" stroke-width="1.1"/>
<text transform="translate(442.50,0) scale(0.86,1)" x="0" y="471.38" font-size="8.60" text-anchor="middle" fill="#1a1a1a" stroke="#1a1a1a" stroke-width="0.116">9</text>
<line x1="455.30" y1="457.60" x2="455.30" y2="460.50" stroke="#1a1a1a" stroke-width="1.1"/>
<text transform="translate(455.30,0) scale(0.86,1)" x="0" y="471.38" font-size="8.60" text-anchor="middle" fill="#1a1a1a" stroke="#1a1a1a" stroke-width="0.116">10</text>
<line x1="468.10" y1="457.60" x2="468.10" y2="460.50" stroke="#1a1a1a" stroke-width="1.1"/>
<text transform="translate(468.10,0) scale(0.86,1)" x="0" y="471.38" font-size="8.60" text-anchor="middle" fill="#1a1a1a" stroke="#1a1a1a" stroke-width="0.116">11</text>
<line x1="480.90" y1="457.60" x2="480.90" y2="460.50" stroke="#1a1a1a" stroke-width="1.1"/>
<text transform="translate(480.90,0) scale(0.86,1)" x="0" y="471.38" font-size="8.60" text-anchor="middle" fill="#1a1a1a" stroke="#1a1a1a" stroke-width="0.116">12</text>
<text transform="translate(404.05,0) scale(0.84,1)" x="0" y="484.85" font-size="10.19" text-anchor="middle" fill="#1a1a1a" stroke="#1a1a1a" stroke-width="0.119">Time (years)</text>
<text transform="translate(433.10,0) scale(0.94,1)" x="0" y="356.39" font-size="8.09" text-anchor="start" fill="#1a1a1a" stroke="#1a1a1a" stroke-width="0.106">Group I (n=139)</text>
<text transform="translate(422.70,0) scale(0.94,1)" x="0" y="394.39" font-size="8.09" text-anchor="start" fill="#1a1a1a" stroke="#1a1a1a" stroke-width="0.106">Group II (n=77)</text>
<text transform="translate(363.10,0) scale(0.94,1)" x="0" y="418.09" font-size="8.09" text-anchor="start" fill="#1a1a1a" stroke="#1a1a1a" stroke-width="0.106">Group III (n=17)</text>
<text transform="translate(484.50,0) scale(0.94,1)" x="0" y="421.43" font-size="8.19" text-anchor="end" fill="#1a1a1a" stroke="#1a1a1a" stroke-width="0.106">3y-OS</text>
<text transform="translate(432.00,0) scale(0.94,1)" x="0" y="432.83" font-size="8.19" text-anchor="start" fill="#1a1a1a" stroke="#1a1a1a" stroke-width="0.106">Group I</text>
<text transform="translate(484.50,0) scale(0.94,1)" x="0" y="432.83" font-size="8.19" text-anchor="end" fill="#1a1a1a" stroke="#1a1a1a" stroke-width="0.106">91%</text>
<text transform="translate(432.00,0) scale(0.94,1)" x="0" y="441.23" font-size="8.19" text-anchor="start" fill="#1a1a1a" stroke="#1a1a1a" stroke-width="0.106">Group II</text>
<text transform="translate(484.50,0) scale(0.94,1)" x="0" y="441.23" font-size="8.19" text-anchor="end" fill="#1a1a1a" stroke="#1a1a1a" stroke-width="0.106">79%</text>
<text transform="translate(432.00,0) scale(0.94,1)" x="0" y="449.03" font-size="8.19" text-anchor="start" fill="#1a1a1a" stroke="#1a1a1a" stroke-width="0.106">Group III</text>
<text transform="translate(484.50,0) scale(0.94,1)" x="0" y="449.03" font-size="8.19" text-anchor="end" fill="#1a1a1a" stroke="#1a1a1a" stroke-width="0.106">44%</text>
<path d="M327.90,350.00 L334.90,350.00 L334.90,354.90 L336.80,354.90 L336.80,355.33 L339.43,355.33 L339.43,355.77 L342.07,355.77 L342.07,356.20 L344.70,356.20 L344.70,357.10 L347.70,357.10 L347.70,358.00 L350.70,358.00 L383.50,358.00 L383.50,359.50 L384.70,359.50 L408.80,359.50 L408.80,361.10 L409.90,361.10 L431.50,361.10 L431.50,365.40 L432.40,365.40 L473.70,365.40" fill="none" stroke="#64a53e" stroke-width="2.1" stroke-linejoin="miter" stroke-linecap="butt"/>
<path d="M330.70,349.15 V347.95 M333.50,349.15 V347.95 M354.15,357.15 V355.95 M357.61,357.15 V355.95 M361.06,357.15 V355.95 M364.51,357.15 V355.95 M367.96,357.15 V355.95 M371.42,357.15 V355.95 M374.87,357.15 V355.95 M378.32,357.15 V355.95 M381.77,357.15 V355.95 M388.41,358.65 V357.45 M392.12,358.65 V357.45 M395.82,358.65 V357.45 M399.53,358.65 V357.45 M403.24,358.65 V357.45 M406.95,358.65 V357.45 M413.22,360.25 V359.05 M416.55,360.25 V359.05 M419.87,360.25 V359.05 M423.19,360.25 V359.05 M426.52,360.25 V359.05 M429.84,360.25 V359.05 M435.99,364.55 V363.35 M439.58,364.55 V363.35 M443.17,364.55 V363.35 M446.77,364.55 V363.35 M450.36,364.55 V363.35 M453.95,364.55 V363.35 M457.54,364.55 V363.35 M461.13,364.55 V363.35 M464.72,364.55 V363.35 M468.31,364.55 V363.35 M471.90,364.55 V363.35" fill="none" stroke="#64a53e" stroke-width="0.8" opacity="0.6"/>
<path d="M327.90,350.00 L334.90,350.00 L334.90,358.80 L336.20,358.80 L336.20,360.10 L338.20,360.10 L338.20,360.77 L341.03,360.77 L341.03,361.43 L343.87,361.43 L343.87,362.10 L346.70,362.10 L346.70,366.70 L350.00,366.70 L350.00,366.93 L352.87,366.93 L352.87,367.17 L355.73,367.17 L355.73,367.40 L358.60,367.40 L358.60,368.70 L361.80,368.70 L361.80,369.20 L365.00,369.20 L365.00,370.20 L367.30,370.20 L367.30,371.20 L369.60,371.20 L369.60,372.00 L372.70,372.00 L372.70,372.80 L375.80,372.80 L375.80,376.50 L377.30,376.50 L386.50,376.50 L386.50,378.50 L388.10,378.50 L388.10,379.00 L390.00,379.00 L390.00,379.50 L391.90,379.50 L391.90,382.60 L393.00,382.60 L438.10,382.60" fill="none" stroke="#26396a" stroke-width="2.1" stroke-linejoin="miter" stroke-linecap="butt"/>
<path d="M332.57,349.15 V347.95 M380.98,375.65 V374.45 M384.66,375.65 V374.45 M397.30,381.75 V380.55 M401.59,381.75 V380.55 M405.89,381.75 V380.55 M410.18,381.75 V380.55 M414.48,381.75 V380.55 M418.77,381.75 V380.55 M423.07,381.75 V380.55 M427.36,381.75 V380.55 M431.66,381.75 V380.55 M435.95,381.75 V380.55" fill="none" stroke="#26396a" stroke-width="0.8" opacity="0.6"/>
<path d="M327.90,350.00 L334.90,350.00 L334.90,358.20 L336.20,358.20 L336.20,372.60 L346.10,372.60 L346.10,379.90 L352.00,379.90 L352.00,387.10 L355.30,387.10 L355.30,395.70 L360.50,395.70 L360.50,404.20 L452.70,404.20" fill="none" stroke="#8c1038" stroke-width="2.1" stroke-linejoin="miter" stroke-linecap="butt"/>
<path d="M342.80,371.75 V370.55 M366.86,403.35 V402.15 M373.22,403.35 V402.15 M379.58,403.35 V402.15 M385.93,403.35 V402.15 M392.29,403.35 V402.15 M398.65,403.35 V402.15 M405.01,403.35 V402.15 M411.37,403.35 V402.15 M417.73,403.35 V402.15 M424.09,403.35 V402.15 M430.44,403.35 V402.15 M436.80,403.35 V402.15 M443.16,403.35 V402.15 M449.52,403.35 V402.15" fill="none" stroke="#8c1038" stroke-width="0.8" opacity="0.6"/>
<rect x="0.5" y="0.5" width="519" height="493" fill="none" stroke="#000" stroke-width="1"/>
</svg>
</body></html>
